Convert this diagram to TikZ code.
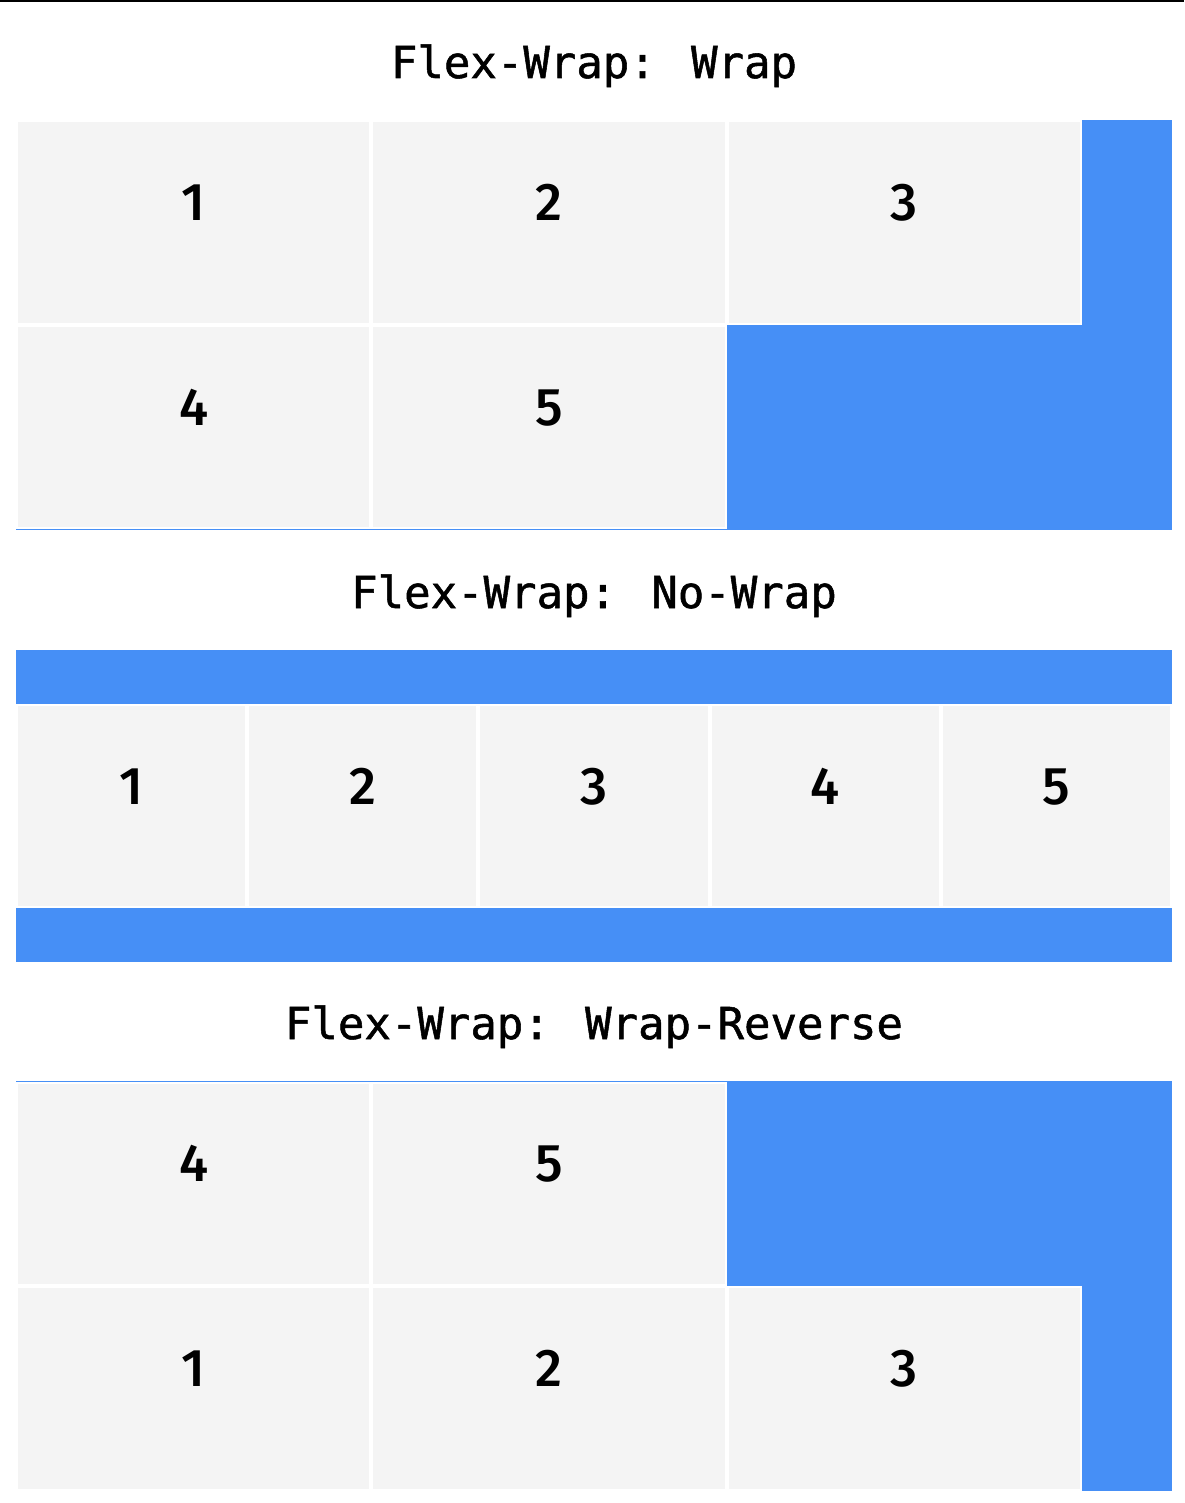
\documentclass[tikz,border=0pt]{standalone}
\usepackage{fontspec}
\newfontfamily\titlefont{DejaVu Sans Mono}[FakeBold=1.2]
\newfontfamily\numfont{Fira Sans Medium}
\usetikzlibrary{positioning}
\definecolor{flexblue}{RGB}{70,143,246}
\definecolor{itemgray}{RGB}{244,244,244}

\begin{document}
\begin{tikzpicture}[
  x=1pt, y=-1pt,
  title/.style={font=\titlefont\fontsize{44}{44}\selectfont, anchor=base},
  container/.style={fill=flexblue, inner sep=0pt, outer sep=0pt, minimum width=1156pt},
  item/.style={fill=itemgray, draw=white, line width=2pt, inner sep=0pt, outer sep=1pt, minimum height=202.7pt, text height=0pt, text depth=4pt, font=\numfont\fontsize{53}{53}\selectfont},
  wide/.style={item, minimum width=353.3pt},
  narrow/.style={item, minimum width=229.2pt}
]
\useasboundingbox (0,0) rectangle (1184,1503);
\fill[black] (0,0) rectangle (1184,2);

\node[title] (wrap-title) at (594,78) {Flex-Wrap: Wrap};
\node[container, minimum height=410pt, anchor=north west] (wrap-box) at (16,120) {};
\node[wide, anchor=north west] (wrap-1) at (wrap-box.north west) {1};
\node[wide, right=0pt of wrap-1] (wrap-2) {2};
\node[wide, right=0pt of wrap-2] (wrap-3) {3};
\node[wide, below=0pt of wrap-1] (wrap-4) {4};
\node[wide, right=0pt of wrap-4] (wrap-5) {5};

\node[title] (nowrap-title) at (594,608) {Flex-Wrap: No-Wrap};
\node[container, minimum height=312pt, anchor=north west] (nowrap-box) at (16,650) {};
\node[narrow, anchor=west] (nowrap-1) at (nowrap-box.west) {1};
\node[narrow, right=0pt of nowrap-1] (nowrap-2) {2};
\node[narrow, right=0pt of nowrap-2] (nowrap-3) {3};
\node[narrow, right=0pt of nowrap-3] (nowrap-4) {4};
\node[narrow, right=0pt of nowrap-4] (nowrap-5) {5};

\node[title] (rev-title) at (594,1039) {Flex-Wrap: Wrap-Reverse};
\node[container, minimum height=410pt, anchor=north west] (rev-box) at (16,1081) {};
\node[wide, anchor=south west] (rev-1) at (rev-box.south west) {1};
\node[wide, right=0pt of rev-1] (rev-2) {2};
\node[wide, right=0pt of rev-2] (rev-3) {3};
\node[wide, above=0pt of rev-1] (rev-4) {4};
\node[wide, right=0pt of rev-4] (rev-5) {5};
\end{tikzpicture}
\end{document}
